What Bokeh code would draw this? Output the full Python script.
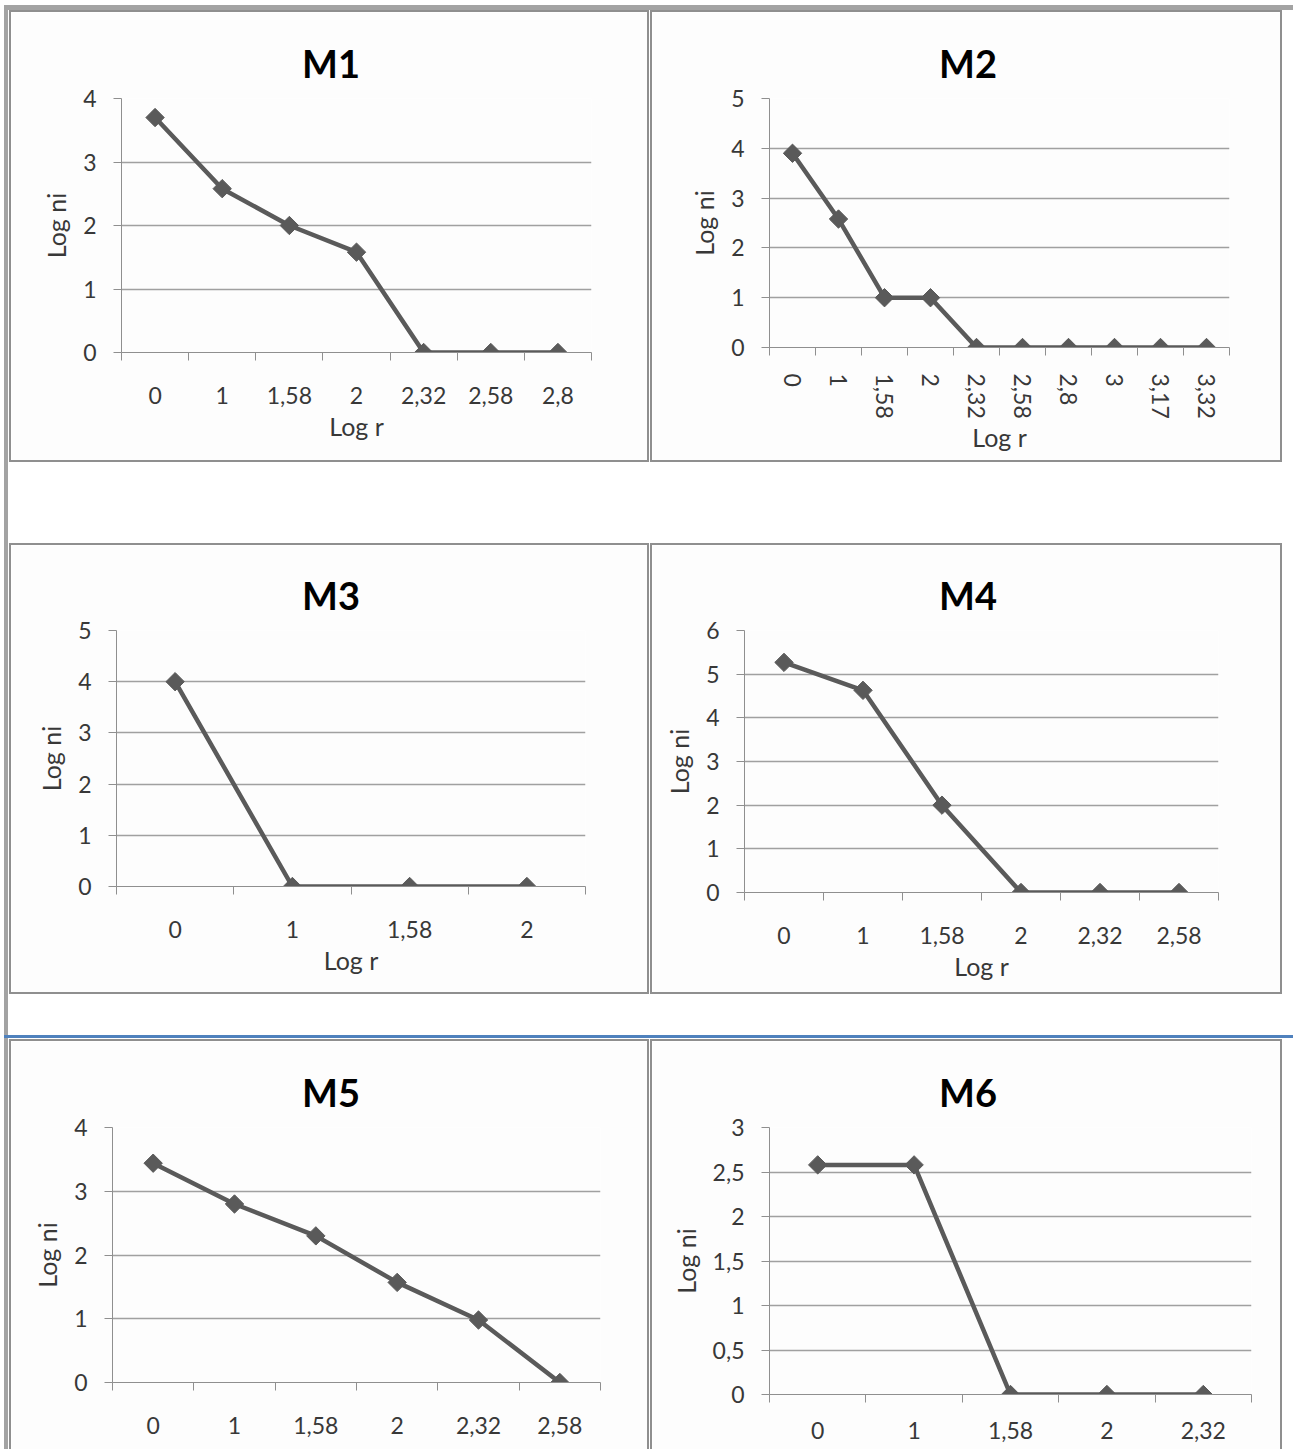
from bokeh.plotting import figure
from bokeh.models import Range1d, FixedTicker, Spacer, Label
from bokeh.layouts import row, column
from bokeh.embed import file_html
from bokeh.resources import INLINE

# ---------------- data ----------------
m1_cats = ["0", "1", "1,58", "2", "2,32", "2,58", "2,8"]
m1_vals = [3.7, 2.58, 2.0, 1.58, 0, 0, 0]
m1_yticks = [0, 1, 2, 3, 4]

m2_cats = ["0", "1", "1,58", "2", "2,32", "2,58", "2,8", "3", "3,17", "3,32"]
m2_vals = [3.9, 2.58, 1.0, 1.0, 0, 0, 0, 0, 0, 0]
m2_yticks = [0, 1, 2, 3, 4, 5]

m3_cats = ["0", "1", "1,58", "2"]
m3_vals = [4.0, 0, 0, 0]
m3_yticks = [0, 1, 2, 3, 4, 5]

m4_cats = ["0", "1", "1,58", "2", "2,32", "2,58"]
m4_vals = [5.27, 4.63, 2.0, 0, 0, 0]
m4_yticks = [0, 1, 2, 3, 4, 5, 6]

m5_cats = ["0", "1", "1,58", "2", "2,32", "2,58"]
m5_vals = [3.44, 2.8, 2.3, 1.57, 0.98, 0]
m5_yticks = [0, 1, 2, 3, 4]

m6_cats = ["0", "1", "1,58", "2", "2,32"]
m6_vals = [2.58, 2.58, 0, 0, 0]
m6_yticks = [0, 0.5, 1, 1.5, 2, 2.5, 3]

x_title = "Log r"
y_title = "Log ni"

# ---------------- style ----------------
FONT = "Lato"
LINE_C = "#5a5a5a"
GRID_C = "#a0a0a0"
AXIS_C = "#8f8f8f"
TEXT_C = "#383838"
PANEL_BG = "#fdfdfd"
BORDER_C = "#8f8f8f"
BAR_C = "#a3a3a3"
BLUE_C = "#4f81bd"
TITLE_PX = 38
TICK_PX = "23px"
AXLAB_PX = "25px"


def fmt(v):
    return ("%g" % v).replace(".", ",")


def gap(w, h, color=None):
    st = {"background-color": color} if color else {}
    return Spacer(width=w, height=h, styles=st)


def make_panel(name, cats, vals, yticks, box_w, box_h, box_x, box_y, frame,
               show_xlabel=True, rotate=False, tick_standoff=26,
               xlabel_standoff=4, bottom_border=True, cut_xlabel=False):
    fl, fr, ft, fb = frame
    cx0, cy0 = box_x + 2, box_y + 2
    cw = box_w - 4
    ch = box_h - (4 if bottom_border else 2)
    n = len(cats)
    p = figure(width=cw, height=ch,
               x_range=Range1d(0, n), y_range=Range1d(yticks[0], yticks[-1]),
               output_backend="svg", toolbar_location=None,
               min_border_left=fl - cx0, min_border_right=cx0 + cw - fr,
               min_border_top=ft - cy0, min_border_bottom=cy0 + ch - fb)
    p.background_fill_color = PANEL_BG
    p.border_fill_color = PANEL_BG
    p.outline_line_color = None

    # title, centred on the whole chart area
    p.title.text = name
    p.title.text_font = FONT
    p.title.text_font_style = "bold"
    p.title.text_font_size = "%dpx" % TITLE_PX
    p.title.text_color = "#000000"
    p.title.align = "left"
    p.title.offset = (cx0 + cw / 2) - fl - 0.722 * TITLE_PX
    p.title.standoff = 26

    xs = [i + 0.5 for i in range(n)]
    p.line(xs, vals, line_color=LINE_C, line_width=4.5)
    p.scatter(xs, vals, marker="square", angle=0.785398, size=13,
              fill_color=LINE_C, line_color=LINE_C)

    # y axis
    ya = p.yaxis[0]
    ya.ticker = FixedTicker(ticks=yticks)
    ya.major_label_overrides = {t: fmt(t) for t in yticks}
    ya.major_tick_out = 8
    ya.major_tick_in = 0
    ya.minor_tick_line_color = None
    ya.axis_line_color = AXIS_C
    ya.major_tick_line_color = AXIS_C
    ya.major_label_text_font = FONT
    ya.major_label_text_font_size = TICK_PX
    ya.major_label_text_color = TEXT_C
    ya.major_label_standoff = 17
    ya.axis_label = y_title
    ya.axis_label_text_font = FONT
    ya.axis_label_text_font_size = AXLAB_PX
    ya.axis_label_text_font_style = "normal"
    ya.axis_label_text_color = TEXT_C
    ya.axis_label_standoff = 9

    # x axis: labels at category centres, ticks on category boundaries
    xa = p.xaxis[0]
    xa.ticker = FixedTicker(ticks=xs, minor_ticks=list(range(n + 1)))
    xa.major_label_overrides = {x: c for x, c in zip(xs, cats)}
    xa.major_tick_out = 0
    xa.major_tick_in = 0
    xa.major_tick_line_color = None
    xa.minor_tick_out = 8
    xa.minor_tick_in = 0
    xa.minor_tick_line_color = AXIS_C
    xa.axis_line_color = AXIS_C
    xa.major_label_text_font = FONT
    xa.major_label_text_font_size = TICK_PX
    xa.major_label_text_color = TEXT_C
    xa.major_label_standoff = tick_standoff
    if rotate:
        xa.major_label_orientation = "vertical"
    if show_xlabel:
        xa.axis_label = x_title
        xa.axis_label_text_font = FONT
        xa.axis_label_text_font_size = AXLAB_PX
        xa.axis_label_text_font_style = "normal"
        xa.axis_label_text_color = TEXT_C
        xa.axis_label_standoff = xlabel_standoff
    else:
        xa.axis_label_standoff = 0
    if cut_xlabel:
        # axis title that runs off the bottom edge, as in the source
        p.add_layout(Label(x=n / 2, y=-57, x_units="data", y_units="screen",
                           text=x_title, text_align="center", text_baseline="top",
                           text_font=FONT, text_font_size=AXLAB_PX,
                           text_color=TEXT_C))

    p.xgrid.visible = False
    p.ygrid.ticker = FixedTicker(ticks=yticks)
    p.ygrid.grid_line_color = GRID_C
    p.ygrid.grid_line_width = 1.6

    # panel frame drawn with thin layout strips
    inner = [gap(cw, 2, BORDER_C), p]
    if bottom_border:
        inner.append(gap(cw, 2, BORDER_C))
    return row(gap(2, box_h, BORDER_C), column(*inner), gap(2, box_h, BORDER_C))


W1, W2 = 640, 632
X1, X2 = 9, 650
R1Y, R1H = 10, 452
R2Y, R2H = 543, 451
R3Y, R3H = 1039, 410

b1 = make_panel("M1", m1_cats, m1_vals, m1_yticks, W1, R1H, X1, R1Y, (121, 591, 98, 352))
b2 = make_panel("M2", m2_cats, m2_vals, m2_yticks, W2, R1H, X2, R1Y, (769, 1229, 98, 347),
                rotate=True, tick_standoff=18, xlabel_standoff=0)
b3 = make_panel("M3", m3_cats, m3_vals, m3_yticks, W1, R2H, X1, R2Y, (116, 585, 630, 886))
b4 = make_panel("M4", m4_cats, m4_vals, m4_yticks, W2, R2H, X2, R2Y, (744, 1218, 630, 892))
b5 = make_panel("M5", m5_cats, m5_vals, m5_yticks, W1, R3H, X1, R3Y, (112, 600, 1127, 1382),
                show_xlabel=False, bottom_border=False, cut_xlabel=True)
b6 = make_panel("M6", m6_cats, m6_vals, m6_yticks, W2, R3H, X2, R3Y, (769, 1251, 1127, 1394),
                show_xlabel=False, tick_standoff=19, bottom_border=False)

PAGE_W = 1293


def bar_row(h):
    return row(gap(4, h), gap(4, h, BAR_C))


def panel_row(h, a, b):
    return row(gap(4, h), gap(4, h, BAR_C), gap(1, h), a, gap(1, h), b)


layout = column(
    gap(PAGE_W, 5),
    row(gap(4, 5), gap(PAGE_W - 4, 5, BAR_C)),
    panel_row(R1H, b1, b2),
    bar_row(R2Y - (R1Y + R1H)),
    panel_row(R2H, b3, b4),
    bar_row(41),
    row(gap(4, 3), gap(PAGE_W - 4, 3, BLUE_C)),
    bar_row(1),
    panel_row(R3H, b5, b6),
)

open("out.html", "w").write(file_html(layout, INLINE))
